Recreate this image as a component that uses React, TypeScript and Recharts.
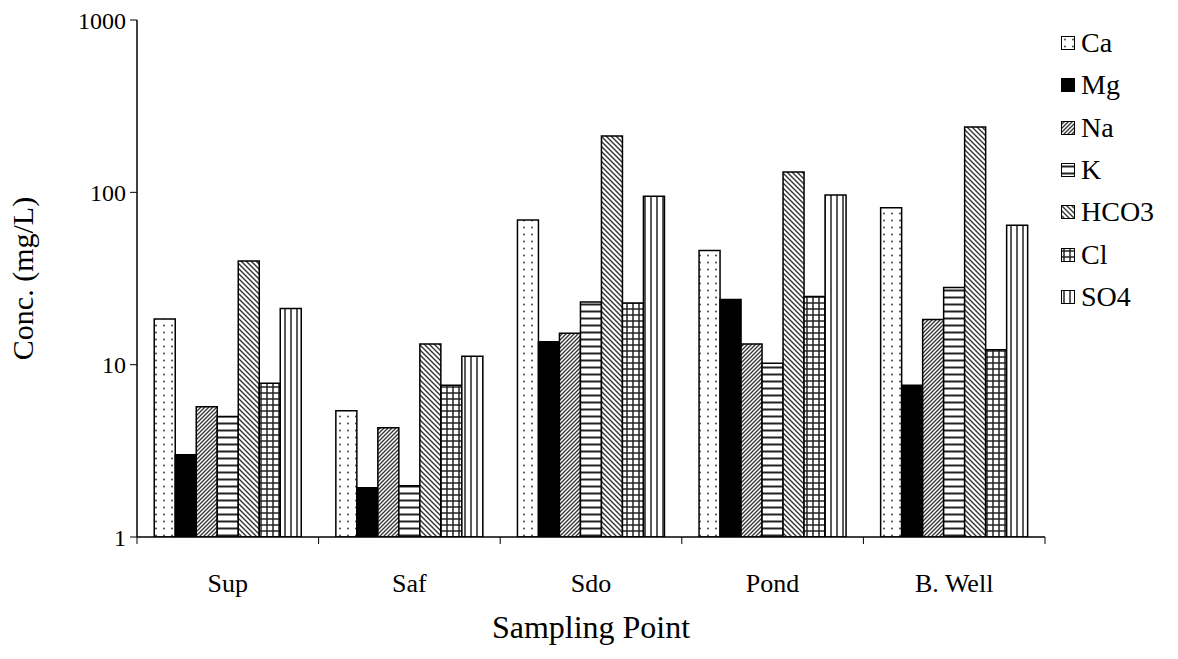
import React from "react";
import { BarChart, Bar, XAxis, YAxis, Legend } from "recharts";

const categories = ["Sup", "Saf", "Sdo", "Pond", "B. Well"];
const ca = [18.4, 5.4, 69, 46, 81.5];
const mg = [3.0, 1.93, 13.6, 23.9, 7.6];
const na = [5.7, 4.3, 15.2, 13.2, 18.3];
const k = [5.0, 1.98, 23.1, 10.2, 28];
const hco3 = [40, 13.2, 212, 131, 239];
const cl = [7.8, 7.6, 22.8, 24.9, 12.2];
const so4 = [21.2, 11.2, 95, 96.5, 64.4];
const yTicks = [1, 10, 100, 1000];

const series = [
  { key: "Ca", values: ca, fill: "url(#pCa)" },
  { key: "Mg", values: mg, fill: "#000" },
  { key: "Na", values: na, fill: "url(#pNa)" },
  { key: "K", values: k, fill: "url(#pK)" },
  { key: "HCO3", values: hco3, fill: "url(#pHco3)" },
  { key: "Cl", values: cl, fill: "url(#pCl)" },
  { key: "SO4", values: so4, fill: "url(#pSo4)" },
];

const data = categories.map((name, i) => {
  const row: Record<string, string | number> = { name };
  series.forEach((s) => {
    row[s.key] = s.values[i];
  });
  return row;
});

const FONT = "'Liberation Serif', 'Times New Roman', serif";

function CatTick(props: any) {
  const { x, y, payload, index, width } = props;
  const w = typeof width === "number" && width > 0 ? width : 908;
  const half = w / categories.length / 2;
  return (
    <g>
      <line x1={x - half} x2={x - half} y1={y} y2={y + 7} stroke="#000" strokeWidth={1} />
      {index === categories.length - 1 && (
        <line x1={x + half} x2={x + half} y1={y} y2={y + 7} stroke="#000" strokeWidth={1} />
      )}
      <text x={x} y={y + 46} dy="0.35em" textAnchor="middle" fontSize={26} fill="#000" fontFamily={FONT}>
        {payload.value}
      </text>
    </g>
  );
}

function LegendBox() {
  return (
    <div style={{ width: 110, fontFamily: FONT, fontSize: 28, color: "#000" }}>
      {series.map((s) => (
        <div key={s.key} style={{ height: 42.3, display: "flex", alignItems: "center" }}>
          <svg width={14} height={14} style={{ marginRight: 6, flex: "none" }}>
            <rect x={0.5} y={0.5} width={13} height={13} fill={s.fill} stroke="#000" strokeWidth={1} />
          </svg>
          <span>{s.key}</span>
        </div>
      ))}
    </div>
  );
}

export default function App() {
  return (
    <div style={{ margin: "-8px 0 0 -8px", width: 1178, height: 659, background: "#fff" }}>
      <BarChart
        width={1178}
        height={659}
        data={data}
        margin={{ top: 20, right: 23, bottom: 0, left: 0 }}
        barCategoryGap="9.5%"
        barGap={0}
        style={{ fontFamily: FONT }}
      >
        <defs>
          <pattern id="pCa" width={8} height={7} patternUnits="userSpaceOnUse">
            <rect width={8} height={7} fill="#fff" />
            <circle cx={4} cy={3.5} r={0.9} fill="#333" />
          </pattern>
          <pattern id="pNa" width={4} height={4} patternUnits="userSpaceOnUse">
            <rect width={4} height={4} fill="#fff" />
            <path d="M-1,1 l2,-2 M0,4 l4,-4 M3,5 l2,-2" stroke="#333" strokeWidth={1.3} />
          </pattern>
          <pattern id="pK" width={8} height={7} patternUnits="userSpaceOnUse">
            <rect width={8} height={7} fill="#fff" />
            <line x1={0} x2={8} y1={3.5} y2={3.5} stroke="#222" strokeWidth={2} />
          </pattern>
          <pattern id="pHco3" width={5} height={5} patternUnits="userSpaceOnUse">
            <rect width={5} height={5} fill="#fff" />
            <path d="M-1,4 l2,2 M0,0 l5,5 M4,-1 l2,2" stroke="#333" strokeWidth={1.4} />
          </pattern>
          <pattern id="pCl" width={6} height={6} patternUnits="userSpaceOnUse">
            <rect width={6} height={6} fill="#fff" />
            <line x1={0} x2={6} y1={3} y2={3} stroke="#222" strokeWidth={1.5} />
            <line x1={3} x2={3} y1={0} y2={6} stroke="#222" strokeWidth={1.5} />
          </pattern>
          <pattern id="pSo4" width={6} height={6} patternUnits="userSpaceOnUse">
            <rect width={6} height={6} fill="#fff" />
            <line x1={3} x2={3} y1={0} y2={6} stroke="#222" strokeWidth={1.5} />
          </pattern>
        </defs>
        <XAxis
          dataKey="name"
          height={122}
          tickSize={0}
          tickMargin={0}
          tickLine={false}
          axisLine={{ stroke: "#000", strokeWidth: 1.5 }}
          tick={<CatTick />}
          interval={0}
          label={{
            content: (p: any) => {
              const vb = p.viewBox || { x: 137, y: 537, width: 908 };
              return (
                <text x={vb.x + vb.width / 2} y={vb.y + 90} dy="0.35em" textAnchor="middle" fontSize={32} fontFamily={FONT} fill="#000">
                  Sampling Point
                </text>
              );
            },
          }}
        />
        <XAxis
          xAxisId="top"
          orientation="top"
          dataKey="name"
          height={0}
          tick={false}
          tickLine={false}
          axisLine={{ stroke: "#000", strokeWidth: 1.5 }}
        />
        <YAxis
          scale="log"
          domain={[1, 1000]}
          ticks={yTicks}
          allowDataOverflow
          width={137}
          tickSize={7}
          tickMargin={4}
          tickLine={{ stroke: "#000" }}
          axisLine={{ stroke: "#000", strokeWidth: 1.5 }}
          tick={{ fontSize: 24, fill: "#000", fontFamily: FONT }}
          label={{
            content: (p: any) => {
              const vb = p.viewBox || { x: 0, y: 20, width: 137, height: 517 };
              const cx = vb.x + 22;
              const cy = vb.y + vb.height / 2;
              return (
                <text x={cx} y={cy} dy="0.35em" textAnchor="middle" fontSize={30} fontFamily={FONT} fill="#000" transform={`rotate(-90 ${cx} ${cy})`}>
                  Conc. (mg/L)
                </text>
              );
            },
          }}
        />
        <YAxis
          yAxisId="right"
          orientation="right"
          width={0}
          domain={[0, 1]}
          tick={false}
          tickLine={false}
          axisLine={{ stroke: "#000", strokeWidth: 1.5 }}
        />
        <Legend
          layout="vertical"
          align="right"
          verticalAlign="top"
          wrapperStyle={{ left: 1061, top: 22, width: 110 }}
          content={() => <LegendBox />}
        />
        {series.map((s) => (
          <Bar
            key={s.key}
            dataKey={s.key}
            fill={s.fill}
            stroke="#000"
            strokeWidth={1.5}
            isAnimationActive={false}
          />
        ))}
      </BarChart>
    </div>
  );
}
